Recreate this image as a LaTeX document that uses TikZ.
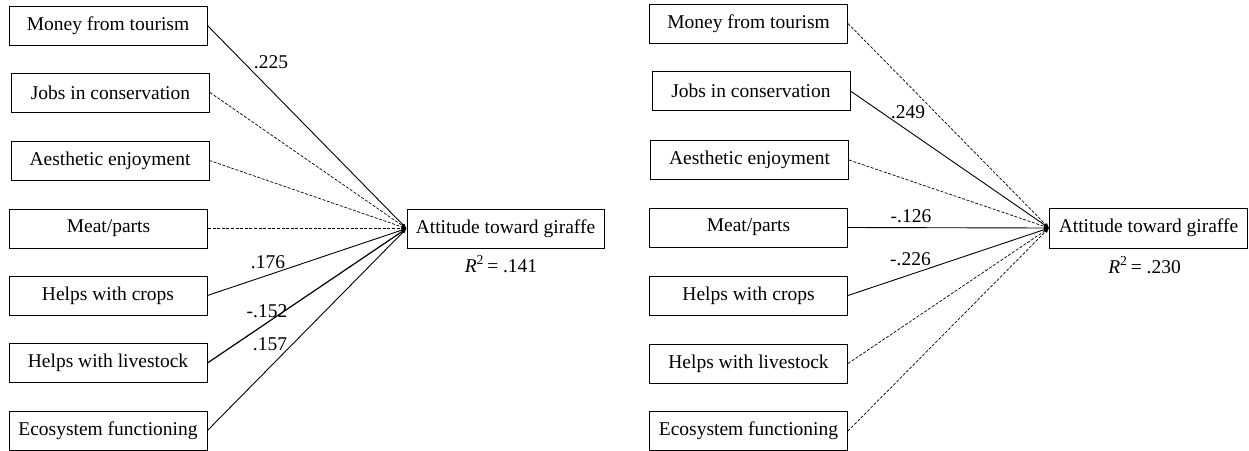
\documentclass[tikz,border=0pt]{standalone}
\usepackage{fontspec}
\setmainfont{Liberation Serif}
\usetikzlibrary{arrows.meta}
\begin{document}
\begin{tikzpicture}[x=1pt,y=-1pt,
  varbox/.style={draw=black,line width=0.9pt,minimum width=198pt,minimum height=39pt,inner sep=0pt,
    font=\fontsize{19.5}{22}\selectfont},
  coef/.style={anchor=base,inner sep=0pt,font=\fontsize{19.5}{22}\selectfont},
  sig/.style={line width=0.9pt,-{Latex[length=5pt,width=4pt]}},
  nsig/.style={line width=0.7pt,dash pattern=on 3pt off 1.6pt,-{Latex[length=5pt,width=4pt]}}]
\useasboundingbox (0,0) rectangle (1249,450);

% ---- left model ----
\node[varbox] (la) at (108,25.5) {Money from tourism};
\node[varbox] (lb) at (110.5,92.5) {Jobs in conservation};
\node[varbox] (lc) at (110,160.5) {Aesthetic enjoyment};
\node[varbox] (ld) at (108.5,228.5) {Meat/parts};
\node[varbox] (le) at (108,295.5) {Helps with crops};
\node[varbox] (lf) at (108,363) {Helps with livestock};
\node[varbox] (lg) at (108,430.5) {Ecosystem functioning};
\node[varbox,minimum width=197pt] (lt) at (505.5,228.5) {Attitude toward giraffe};
\node[coef] (lr) at (501,272) {\textit{R}\textsuperscript{2}\,= .141};

\draw[sig]  (la.east) -- (lt.west);
\draw[nsig] (lb.east) -- (lt.west);
\draw[nsig] (lc.east) -- (lt.west);
\draw[nsig] (ld.east) -- (lt.west);
\draw[sig]  (le.east) -- (lt.west);
\draw[sig,line width=1.2pt] (lf.east) -- (lt.west);
\draw[sig]  (lg.east) -- (lt.west);

\node[coef] (lca) at (271,68) {.225};
\node[coef] (lce) at (268,268) {.176};
\node[coef] (lcf) at (267,317) {-.152};
\node[coef] (lcg) at (270,350) {.157};

% ---- right model ----
\node[varbox] (ra) at (748.5,23.5) {Money from tourism};
\node[varbox] (rb) at (751,91) {Jobs in conservation};
\node[varbox] (rc) at (749.5,160) {Aesthetic enjoyment};
\node[varbox] (rd) at (748.5,227.5) {Meat/parts};
\node[varbox] (re) at (748.5,295.5) {Helps with crops};
\node[varbox] (rf) at (748.5,363.5) {Helps with livestock};
\node[varbox] (rg) at (748.5,431) {Ecosystem functioning};
\node[varbox,minimum width=198pt,minimum height=40pt] (rt) at (1148.5,228) {Attitude toward giraffe};
\node[coef] (rr) at (1144.5,273) {\textit{R}\textsuperscript{2}\,= .230};

\draw[nsig] (ra.east) -- (rt.west);
\draw[sig]  (rb.east) -- (rt.west);
\draw[nsig] (rc.east) -- (rt.west);
\draw[sig]  (rd.east) -- (rt.west);
\draw[sig]  (re.east) -- (rt.west);
\draw[nsig] (rf.east) -- (rt.west);
\draw[nsig] (rg.east) -- (rt.west);

\node[coef] (rcb) at (908,118) {.249};
\node[coef] (rcd) at (911,222) {-.126};
\node[coef] (rce) at (910.5,265) {-.226};
\end{tikzpicture}
\end{document}
